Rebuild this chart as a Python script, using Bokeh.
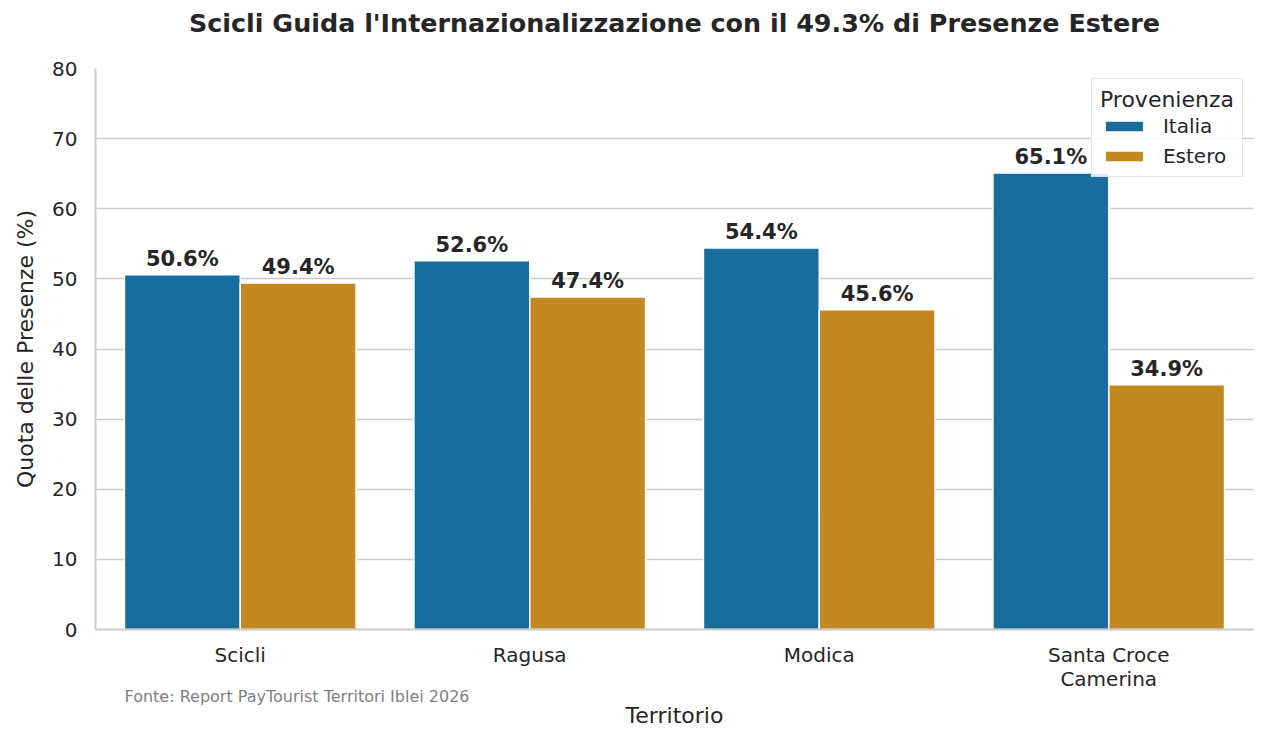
from bokeh.plotting import figure
from bokeh.models import (FactorRange, Range1d, ColumnDataSource, Legend, LegendItem,
                          LabelSet, FixedTicker, Title)
from bokeh.transform import dodge
from bokeh.core.properties import value
from bokeh.embed import file_html
from bokeh.resources import INLINE

# ---- data ----
territories = ["Scicli", "Ragusa", "Modica", "Santa Croce\nCamerina"]
italia = [50.6, 52.6, 54.4, 65.1]
estero = [49.4, 47.4, 45.6, 34.9]
series_names = ["Italia", "Estero"]
y_ticks = [0, 10, 20, 30, 40, 50, 60, 70, 80]
title_text = "Scicli Guida l'Internazionalizzazione con il 49.3% di Presenze Estere"
x_label = "Territorio"
y_label = "Quota delle Presenze (%)"
source_note = "Fonte: Report PayTourist Territori Iblei 2026"

FONT = "DejaVu Sans"
TXT = "#262626"
BLUE = "#176d9d"
ORANGE = "#c38820"
GRID = "#cccccc"

src = ColumnDataSource(dict(
    terr=territories,
    italia=italia,
    estero=estero,
    italia_lbl=[f"{v:.1f}%" for v in italia],
    estero_lbl=[f"{v:.1f}%" for v in estero],
))

p = figure(width=1257, height=734, output_backend="svg", toolbar_location=None,
           x_range=FactorRange(*territories), y_range=Range1d(0, 80),
           min_border_left=95, min_border_right=4, min_border_top=68, min_border_bottom=105)

# title: main title above a spacer
p.title.text = title_text
p.title.align = "center"
p.title.text_font = FONT
p.title.text_font_size = "25.4px"
p.title.text_font_style = "bold"
p.title.text_color = TXT
p.title.standoff = 7
spacer = Title(text=" ", text_font_size="13.5px")
p.above = [spacer] + [a for a in p.above if a is not spacer]

p.outline_line_color = None
p.background_fill_color = "white"
p.border_fill_color = "white"

r1 = p.vbar(x=dodge("terr", -0.2, range=p.x_range), top="italia", width=0.4, source=src,
            fill_color=BLUE, line_color="white", line_width=1.5)
r2 = p.vbar(x=dodge("terr", 0.2, range=p.x_range), top="estero", width=0.4, source=src,
            fill_color=ORANGE, line_color="white", line_width=1.5)

for col, off in (("italia", -0.2), ("estero", 0.2)):
    ls = LabelSet(x=dodge("terr", off, range=p.x_range), y=col, text=col + "_lbl", source=src,
                  text_align="center", text_baseline="bottom", y_offset=4,
                  text_font=value(FONT), text_font_size="21px", text_font_style="bold",
                  text_color=TXT)
    p.add_layout(ls)

# axes
p.xgrid.grid_line_color = None
p.ygrid.grid_line_color = GRID
p.ygrid.grid_line_width = 1.3
p.yaxis.ticker = FixedTicker(ticks=y_ticks)

for ax in (p.xaxis[0], p.yaxis[0]):
    ax.axis_line_color = GRID
    ax.axis_line_width = 2
    ax.major_tick_line_color = None
    ax.minor_tick_line_color = None
    ax.major_tick_out = 0
    ax.major_tick_in = 0
    ax.major_label_text_font = FONT
    ax.major_label_text_font_size = "20px"
    ax.major_label_text_color = TXT
    ax.axis_label_text_font = FONT
    ax.axis_label_text_font_size = "22px"
    ax.axis_label_text_font_style = "normal"
    ax.axis_label_text_color = TXT

p.yaxis.axis_label = y_label
p.yaxis.major_label_standoff = 18
p.yaxis.axis_label_standoff = 11
p.xaxis.major_label_standoff = 13
p.xaxis.major_label_text_line_height = 1.0

# below: source note, then x label (as titles stacked under the axis)
note = Title(text=source_note, align="left", offset=29, text_font=FONT, text_font_size="16px",
             text_font_style="normal", text_color="#808080", standoff=-17,
             text_line_height=1.0)
xlab = Title(text=x_label, align="center", text_font=FONT, text_font_size="22px",
             text_font_style="normal", text_color=TXT, standoff=7, text_line_height=1.0)
p.add_layout(note, "below")
p.add_layout(xlab, "below")

# legend
legend = Legend(items=[LegendItem(label=series_names[0], renderers=[r1]),
                       LegendItem(label=series_names[1], renderers=[r2])],
                title="Provenienza", location="top_right")
legend.title_text_font = FONT
legend.title_text_font_size = "22px"
legend.title_text_font_style = "normal"
legend.title_text_color = TXT
legend.title_standoff = 2
legend.label_text_font = FONT
legend.label_text_font_size = "20px"
legend.label_text_color = TXT
legend.glyph_width = 48
legend.glyph_height = 14
legend.label_height = 22
legend.label_standoff = 15
legend.spacing = 6
legend.padding = 8
legend.margin = 10
legend.border_line_color = GRID
legend.background_fill_alpha = 0.85
p.add_layout(legend)

open("out.html", "w").write(file_html(p, INLINE))
